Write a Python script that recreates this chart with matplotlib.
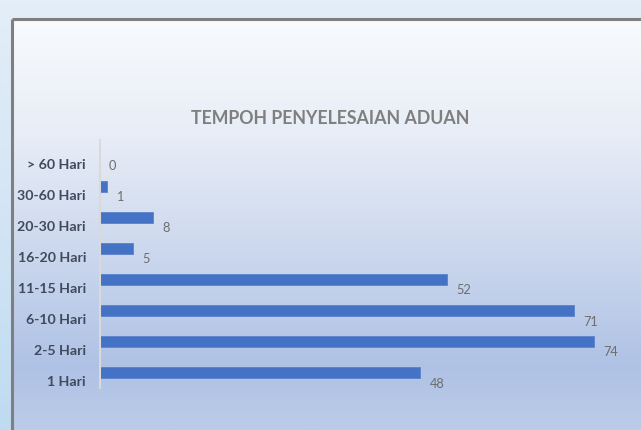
import numpy as np
import matplotlib
matplotlib.use("Agg")
import matplotlib.pyplot as plt
from matplotlib.colors import LinearSegmentedColormap

categories = ["1 Hari", "2-5 Hari", "6-10 Hari", "11-15 Hari", "16-20 Hari", "20-30 Hari", "30-60 Hari", "> 60 Hari"]
values = [48, 74, 71, 52, 5, 8, 1, 0]
title = "TEMPOH PENYELESAIAN ADUAN"

W, H = 641, 430
fig = plt.figure(figsize=(W / 100, H / 100), dpi=100)
fig.patch.set_facecolor("#DDEBF7")

# background layer
bg = fig.add_axes([0, 0, 1, 1])
bg.set_xlim(0, W)
bg.set_ylim(H, 0)
bg.axis("off")
outer = LinearSegmentedColormap.from_list("o", ["#E3EEF9", "#D3E5F5", "#BFDBF1"])
bg.imshow(np.linspace(0, 1, 100).reshape(-1, 1), cmap=outer, aspect="auto",
          extent=[0, W, H, 0], zorder=0)
panel = LinearSegmentedColormap.from_list(
    "p", [(0, "#F8FAFD"), (0.3, "#E6ECF6"), (0.55, "#CDD9EE"), (0.85, "#AFC2E5"), (1.0, "#BCCBE9")])
bg.imshow(np.linspace(0, 1, 200).reshape(-1, 1), cmap=panel, aspect="auto",
          extent=[12, W, H, 19], zorder=1)
bg.plot([11.5, W], [18.5, 18.5], color="#7F7F7F", lw=2.2, zorder=2, solid_capstyle="butt")
bg.plot([11.5, 11.5], [18.5, H], color="#7F7F7F", lw=2.2, zorder=2, solid_capstyle="butt")

fig.text(330 / W, 1 - 118 / H, title, ha="center", va="center", fontsize=12.8,
         fontweight="bold", color="#7F7F7F", family="Lato")

# main axes
ax = fig.add_axes([100 / W, 1 - 388 / H, (W - 7 - 100) / W, 248 / H])
ax.patch.set_alpha(0)
y = np.arange(len(categories))
ax.barh(y, values, height=0.35, color="#4472C4", edgecolor="#5B82CC", linewidth=0.6)
ax.set_ylim(-0.5, len(categories) - 0.5)
ax.set_xlim(0, 534 / (494 / 74))
for v, yy in zip(values, y):
    ax.annotate(str(v), (v, yy), xytext=(9, -11), textcoords="offset pixels",
                ha="left", va="center", fontsize=9.2, color="#6D6D6D", family="Lato")
for c, yy in zip(categories, y):
    ax.annotate(c, (0, yy), xycoords=("axes fraction", "data"), xytext=(-14, -9.5),
                textcoords="offset pixels", ha="right", va="center", fontsize=10.2,
                fontweight="bold", color="#404A5C", family="Lato")
ax.set_yticks([])
ax.set_xticks([])
for s in ["top", "right", "bottom"]:
    ax.spines[s].set_visible(False)
ax.spines["left"].set_color("#D9D9D9")
ax.spines["left"].set_linewidth(1.5)

fig.savefig("out.png", dpi=100)
